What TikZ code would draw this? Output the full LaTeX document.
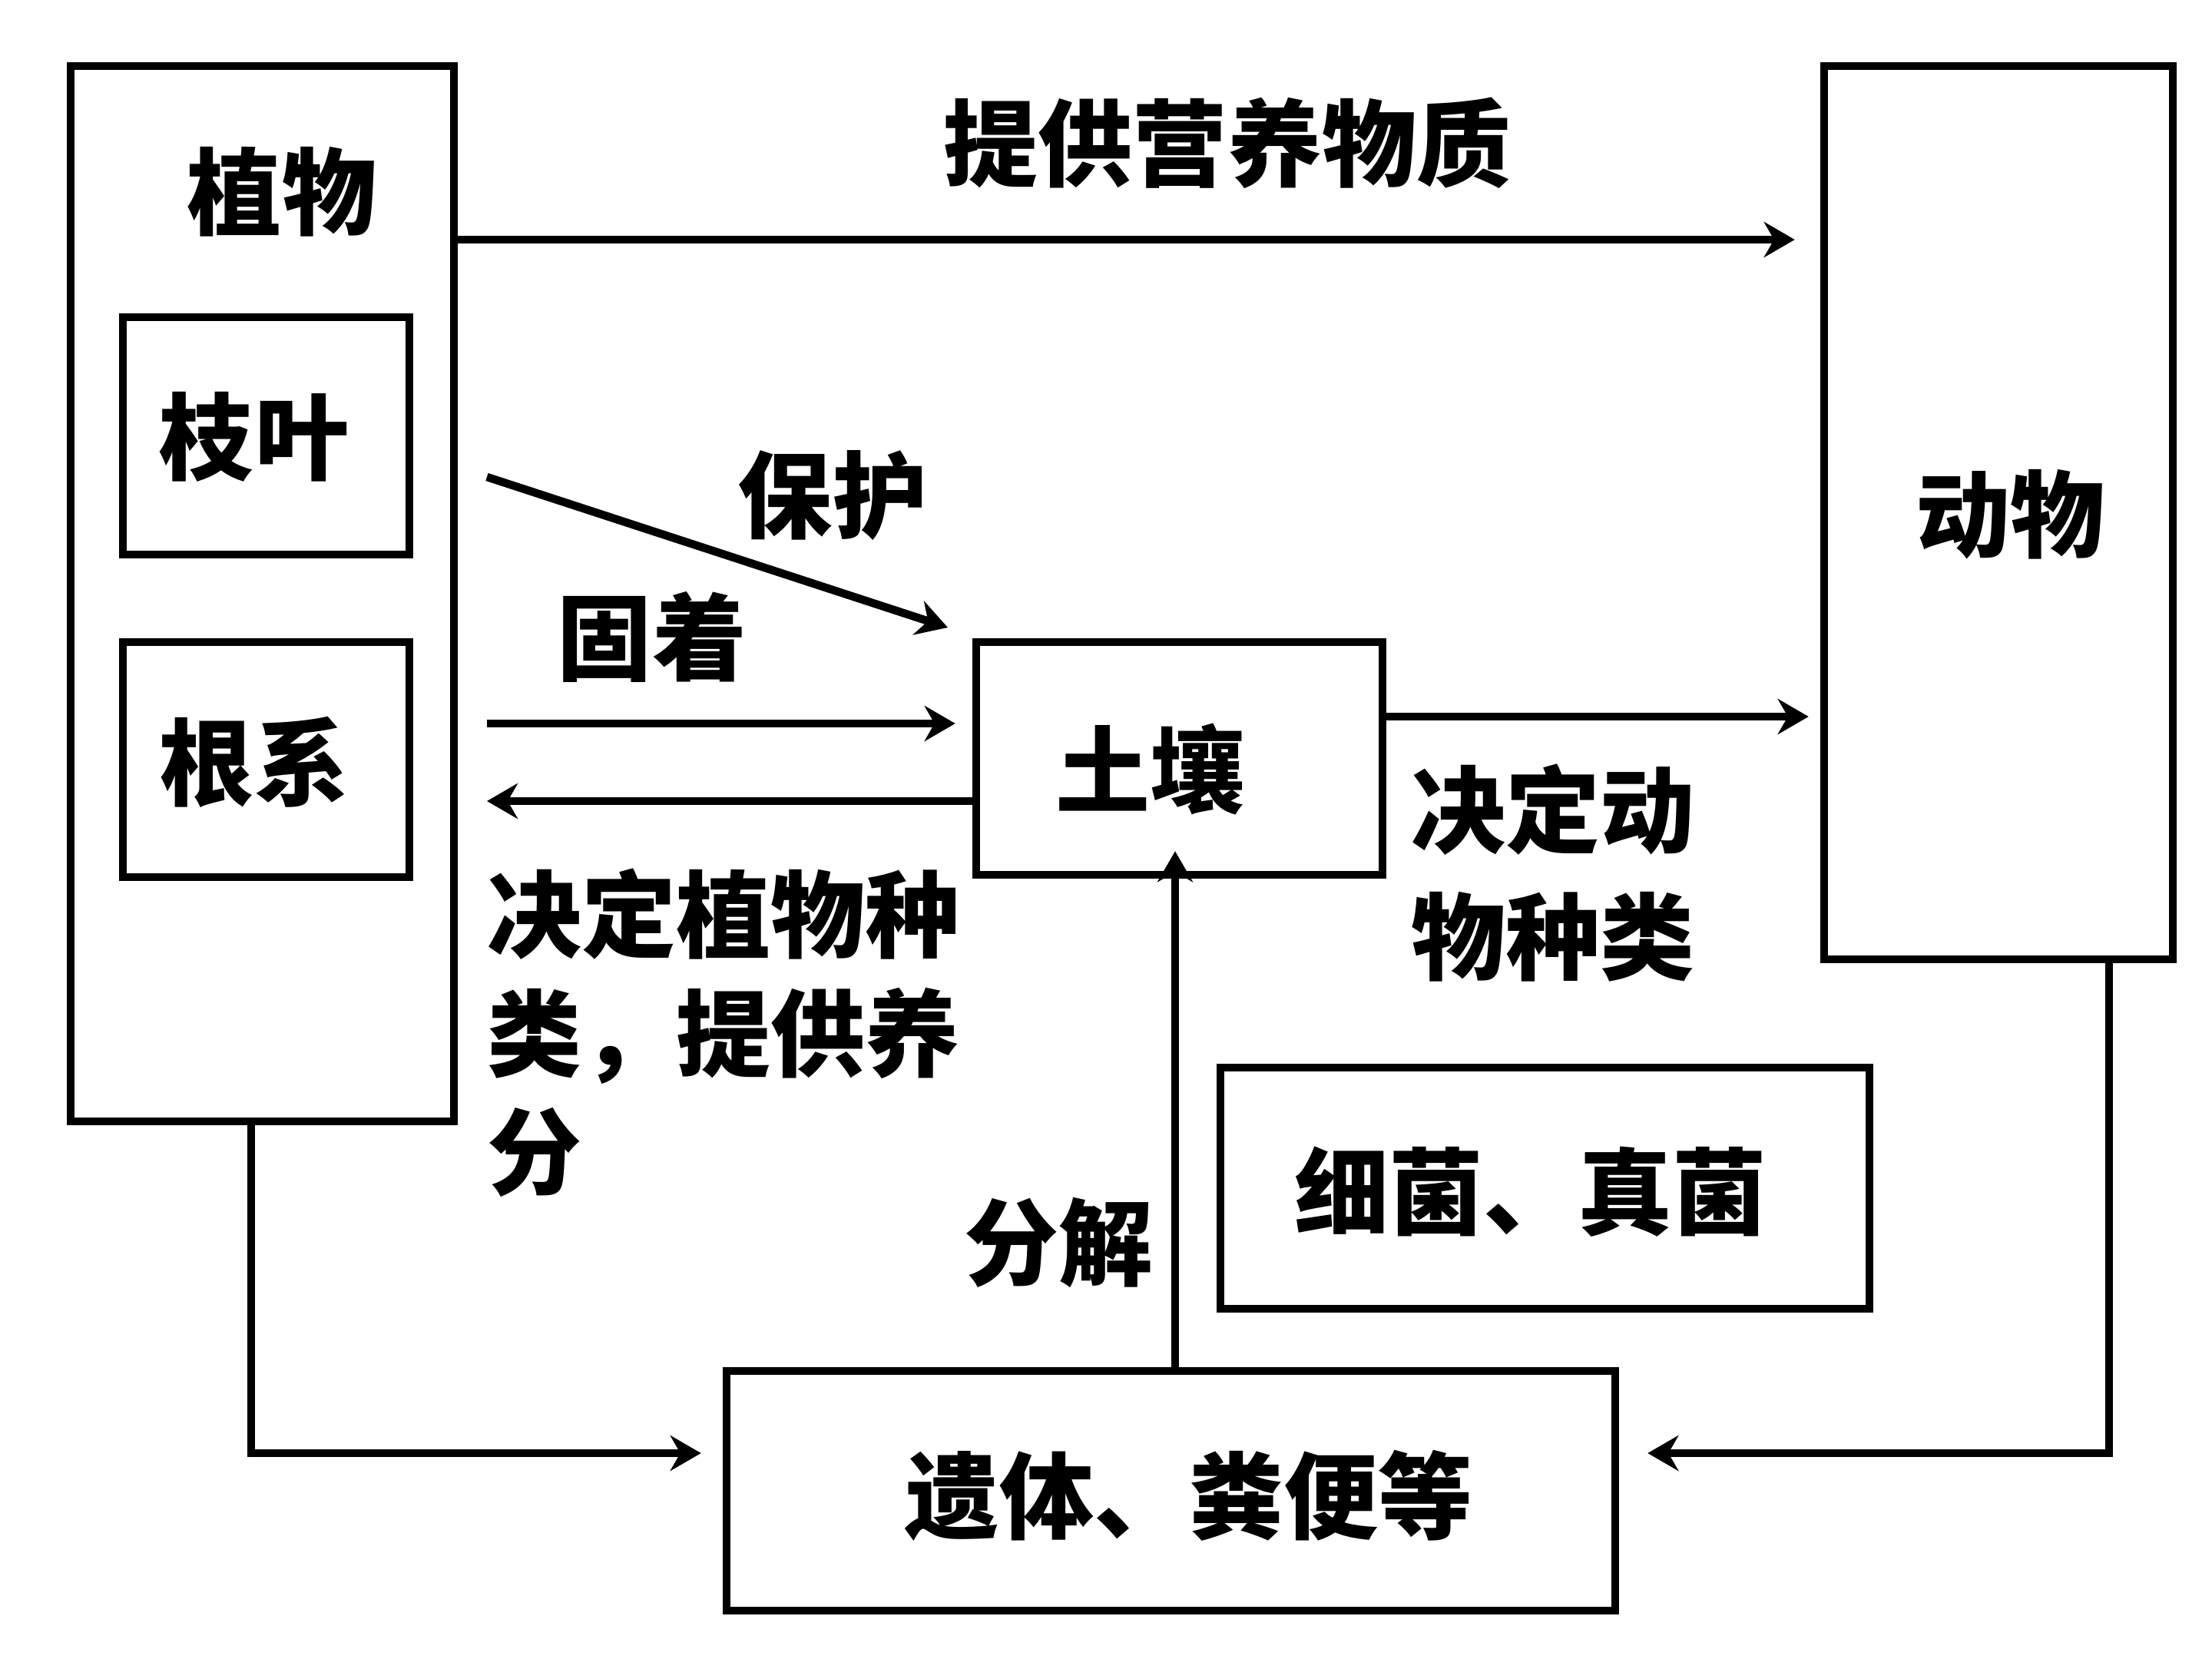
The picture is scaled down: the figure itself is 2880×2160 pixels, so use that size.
\documentclass[tikz,border=0pt]{standalone}
\usepackage{fontspec}
\setmainfont{Noto Sans CJK SC}
\usetikzlibrary{arrows.meta,calc}
\begin{document}
\begin{tikzpicture}[x=0.1mm,y=-0.1mm,
  box/.style={draw=black,line width=3pt,inner sep=0pt},
  lbl/.style={inner sep=0pt,font=\fontsize{35}{42}\selectfont\bfseries},
  arr/.style={draw=black,line width=3pt,-{Stealth[length=4mm,width=4.6mm]}}]
\useasboundingbox (0,0) rectangle (2880,2160);
% boxes
\node[box,minimum width=49.9mm,minimum height=137.4mm] (plant) at (341.5,773) {};
\node[box,minimum width=37.3mm,minimum height=30.9mm] (zhiye) at (346.5,567.5) {};
\node[box,minimum width=37.3mm,minimum height=30.6mm] (genxi) at (346.5,989) {};
\node[box,minimum width=45.4mm,minimum height=116.3mm] (animal) at (2602,667.5) {};
\node[box,minimum width=52.9mm,minimum height=30.3mm] (soil) at (1535.5,987.5) {};
\node[box,minimum width=84.5mm,minimum height=31.4mm] (bact) at (2011.5,1547) {};
\node[box,minimum width=115.7mm,minimum height=31.2mm] (remains) at (1524.5,1941) {};
% box texts
\node[lbl] (tplant) at (367,250) {植物};
\node[lbl] (tzhiye) at (331,569) {枝叶};
\node[lbl] (tgenxi) at (331,992) {根系};
\node[lbl] (tanimal) at (2617,670) {动物};
\node[lbl] (tsoil) at (1497,1001) {土壤};
\node[lbl] (tbact) at (1993,1552) {细菌、真菌};
\node[lbl] (tremains) at (1548,1947) {遗体、粪便等};
% connector labels
\node[lbl] (ltop) at (1598,186) {提供营养物质};
\node[lbl] (lprot) at (1084,645) {保护};
\node[lbl] (lfix) at (849,829) {固着};
\node[lbl,align=left,anchor=north west,font=\fontsize{35}{44}\selectfont\bfseries] (lback) at (634,1130) {决定植物种\\类，提供养\\分};
\node[lbl,align=left,anchor=north west,font=\fontsize{35}{47}\selectfont\bfseries] (lanim) at (1837,994) {决定动\\物种类};
\node[lbl] (ldec) at (1378,1618) {分解};
% coordinates
\coordinate (ytop) at (0,312);
\coordinate (pa) at (634,621);
\coordinate (pb) at (1234,817);
\coordinate (yfix) at (0,942);
\coordinate (yback) at (0,1043);
\coordinate (xleft) at (634,0);
\coordinate (ysa) at (0,933);
\coordinate (xdec) at (1530,0);
\coordinate (ybot) at (0,1892);
\coordinate (xpl) at (327,0);
\coordinate (xan) at (2746,0);
% connectors
\draw[arr] (plant.east |- ytop) -- ([xshift=-3.3mm]animal.west |- ytop);
\draw[arr] (pa) -- (pb);
\draw[arr] (xleft |- yfix) -- ([xshift=-2.2mm]soil.west |- yfix);
\draw[arr] (soil.west |- yback) -- (xleft |- yback);
\draw[arr] (soil.east |- ysa) -- ([xshift=-1.5mm]animal.west |- ysa);
\draw[arr] (remains.north -| xdec) -- ([yshift=3.6mm]soil.south -| xdec);
\draw[arr] (plant.south -| xpl) |- ([xshift=-2.8mm]remains.west |- ybot);
\draw[arr] (animal.south -| xan) |- ([xshift=3.7mm]remains.east |- ybot);
\end{tikzpicture}
\end{document}
